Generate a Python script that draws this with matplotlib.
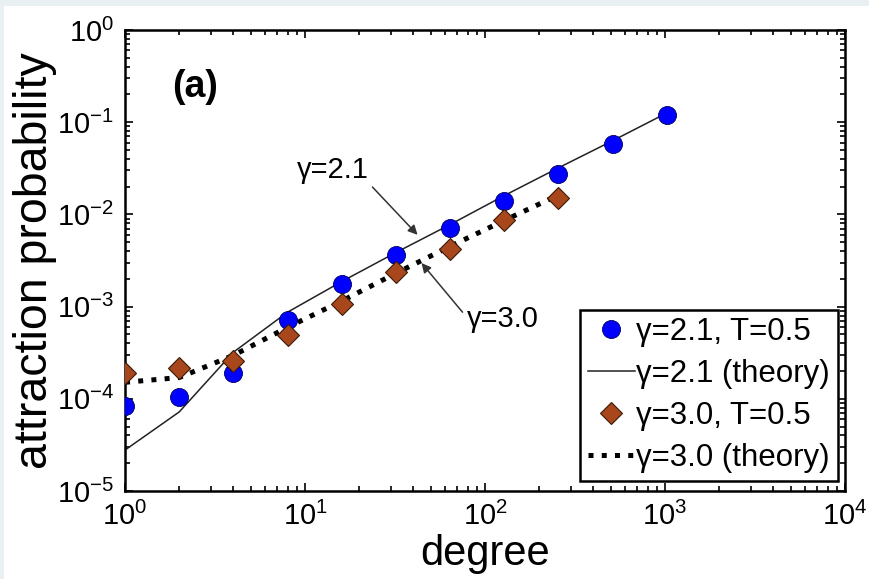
import matplotlib
matplotlib.use("Agg")
import matplotlib.pyplot as plt
from matplotlib.patches import Rectangle
from matplotlib.ticker import LogLocator, NullFormatter

plt.rcParams['font.family'] = ['Liberation Sans', 'DejaVu Sans']
plt.rcParams['mathtext.fontset'] = 'custom'
plt.rcParams['mathtext.rm'] = 'Liberation Sans'

# data
degree = [1, 2, 4, 8, 16, 32, 64, 128, 256, 512, 1024]
sim_21 = [8.3e-5, 1.04e-4, 1.9e-4, 7.1e-4, 1.74e-3, 3.67e-3, 7.2e-3, 1.41e-2, 2.76e-2, 5.8e-2, 0.12]
theory_21 = [2.78e-5, 7.2e-5, 3.2e-4, 8.7e-4, 1.87e-3, 3.86e-3, 7.76e-3, 1.6e-2, 3.2e-2, 6.3e-2, 0.126]
degree_30 = [1, 2, 4, 8, 16, 32, 64, 128, 256]
sim_30 = [1.9e-4, 2.14e-4, 2.6e-4, 4.9e-4, 1.06e-3, 2.35e-3, 4.2e-3, 8.6e-3, 1.52e-2]
theory_30 = [1.51e-4, 1.7e-4, 2.96e-4, 5.96e-4, 1.15e-3, 2.3e-3, 4.5e-3, 8.6e-3, 1.62e-2]

labels = ['γ=2.1, T=0.5', 'γ=2.1 (theory)', 'γ=3.0, T=0.5', 'γ=3.0 (theory)']

fig = plt.figure(figsize=(8.69, 5.79), dpi=100)
fig.patch.set_facecolor('#e8f0f2')
fig.patches.append(Rectangle((4/869, 0), 1, 1 - 6/579, transform=fig.transFigure,
                             facecolor='white', edgecolor='none', zorder=-10))
ax = fig.add_axes([125/869, 1 - 491/579, 720/869, 461/579])
ax.set_facecolor('white')

h1, = ax.plot(degree, sim_21, 'o', color='#0000ff', markeredgecolor='#000060',
              markeredgewidth=0.6, markersize=13, zorder=3)
h2, = ax.plot(degree, theory_21, '-', color='#222222', lw=1.1, zorder=2)
h3, = ax.plot(degree_30, sim_30, 'D', color='#a8461c', markeredgecolor='#3a1a08',
              markeredgewidth=0.8, markersize=11, zorder=3)
h4, = ax.plot(degree_30, theory_30, ':', color='black', lw=3.6, zorder=2)

ax.set_xscale('log')
ax.set_yscale('log')
ax.set_xlim(1, 1e4)
ax.set_ylim(1e-5, 1)

ax.xaxis.set_major_locator(LogLocator(base=10, numticks=10))
ax.yaxis.set_major_locator(LogLocator(base=10, numticks=10))
ax.xaxis.set_minor_locator(LogLocator(base=10, subs=range(2, 10), numticks=20))
ax.yaxis.set_minor_locator(LogLocator(base=10, subs=range(2, 10), numticks=20))
ax.xaxis.set_minor_formatter(NullFormatter())
ax.yaxis.set_minor_formatter(NullFormatter())
ax.tick_params(which='both', direction='in', top=True, right=True, width=1.2)
ax.tick_params(which='major', length=6, labelsize=21, pad=8)
ax.tick_params(which='minor', length=3.5)
for s in ax.spines.values():
    s.set_linewidth(1.8)

ax.set_xlabel('degree', fontsize=30, labelpad=2)
ax.set_ylabel('attraction probability', fontsize=33.5, labelpad=0)

ax.text(0.066, 0.855, '(a)', transform=ax.transAxes, fontsize=27, fontweight='bold')

# annotations
ax.text(14.2, 3.0e-2, 'γ=2.1', fontsize=21, ha='center', va='center')
ax.annotate('', xy=(42.2, 6.0e-3), xytext=(23.7, 1.98e-2),
            arrowprops=dict(arrowstyle='-|>', color='#333333', lw=1.1,
                            mutation_scale=14, shrinkA=0, shrinkB=0))
ax.text(126, 7.4e-4, 'γ=3.0', fontsize=21, ha='center', va='center')
ax.annotate('', xy=(44.4, 2.97e-3), xytext=(75, 8.7e-4),
            arrowprops=dict(arrowstyle='-|>', color='#333333', lw=1.1,
                            mutation_scale=14, shrinkA=0, shrinkB=0))

leg = ax.legend([h1, h2, h3, h4], labels, loc='lower right',
                bbox_to_anchor=(0.99, 0.022), borderaxespad=0, fontsize=22.5,
                handlelength=1.5, handletextpad=0.05, labelspacing=0.38,
                borderpad=0.25, fancybox=False, framealpha=1, edgecolor='black')
leg.get_frame().set_linewidth(1.8)

fig.savefig('out.png', dpi=100, facecolor=fig.get_facecolor())
